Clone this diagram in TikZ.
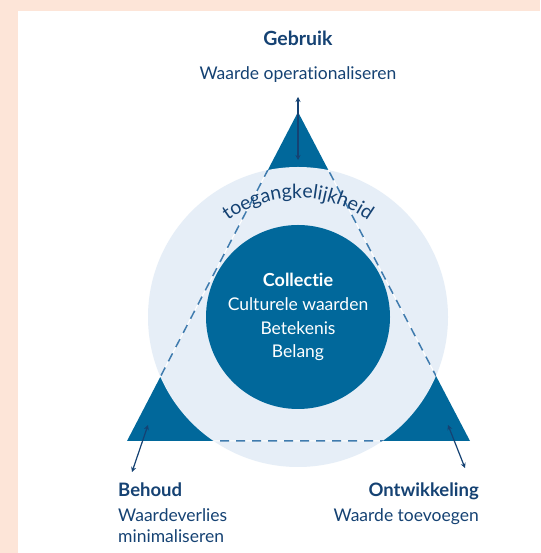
\documentclass[tikz,border=0pt]{standalone}
\usepackage{fontspec}
\setmainfont{Lato}[Ligatures=NoCommon]
\usetikzlibrary{decorations.text,arrows.meta}

\definecolor{peach}{HTML}{FDE5D8}
\definecolor{rijkblue}{HTML}{01689B}
\definecolor{lightcirc}{HTML}{E6EEF7}
\definecolor{navy}{HTML}{154273}
\definecolor{dashblue}{HTML}{3F7BAE}

\tikzset{
  lbl/.style={text=navy, font=\fontsize{17.5}{20}\selectfont, inner sep=0pt},
  ttl/.style={lbl, font=\fontsize{18.5}{21}\selectfont\bfseries},
  wlbl/.style={text=white, font=\fontsize{17.5}{20}\selectfont, inner sep=0pt},
  dblarrow/.style={{Stealth[length=5pt,width=5pt]}-{Stealth[length=5pt,width=5pt]}, navy, line width=1.2pt},
}

\begin{document}
\begin{tikzpicture}[x=1pt,y=1pt]
    \def\cx{298};
    \def\cy{236};
    \def\ro{150};
    \def\ri{92};

    % background and panel
    \fill[peach] (0,0) rectangle (540,553);
    \fill[white] (18,0) rectangle (540,542);
    \useasboundingbox (0,0) rectangle (540,553);

    % triangle
    \coordinate (top) at (\cx, 441);
    \coordinate (bl) at (127, 112);
    \coordinate (br) at (470, 112);
    \fill[rijkblue] (top) -- (bl) -- (br) -- cycle;

    % light circle
    \fill[lightcirc] (\cx, \cy) circle (\ro);

% dashed edges inside the circle
    \begin{scope}
      \clip (\cx, \cy) circle (\ro);
      \draw[white, line width=1pt] (top) -- (bl) -- (br) -- cycle;
      \draw[dashblue, line width=1.5pt, dash pattern=on 9pt off 7pt] (top) -- (bl) -- (br) -- cycle;
    \end{scope}

    % inner circle
    \fill[rijkblue] (\cx, \cy) circle (\ri);

    % text along the ring
    \path[decorate, decoration={text along path, text align=center,
        text={|\fontsize{19.5}{22}\selectfont\color{navy}|toegangkelijkheid}}]
        (\cx, \cy) ++(140:119) arc[start angle=140, end angle=40, radius=119];

    % centre text
    \node[wlbl, anchor=base, font=\fontsize{18}{21}\selectfont\bfseries] (coll) at (\cx, 266) {Collectie};
    \node[wlbl, anchor=base] (cult) at (\cx, 242) {Culturele waarden};
    \node[wlbl, anchor=base] (bet) at (\cx, 218) {Betekenis};
    \node[wlbl, anchor=base] (bel) at (\cx, 195) {Belang};

    % corner labels
    \node[ttl, anchor=base, font=\fontsize{19.5}{22}\selectfont\bfseries] (gebr) at (\cx, 507) {Gebruik};
    \node[lbl, anchor=base] (gebrtxt) at (\cx, 473) {Waarde operationaliseren};

    \node[ttl, anchor=base west] (beh) at (118, 56) {Behoud};
    \node[lbl, anchor=base west] (behtxt1) at (118, 31) {Waardeverlies};
    \node[lbl, anchor=base west] (behtxt2) at (118, 10) {minimaliseren};

    \node[ttl, anchor=base east] (ontw) at (479, 56) {Ontwikkeling};
    \node[lbl, anchor=base east] (ontwtxt) at (479, 31) {Waarde toevoegen};

    % arrows
    \coordinate (a1) at (\cx, 456);
    \coordinate (a2) at (\cx, 393);
    \coordinate (b1) at (148, 128);
    \coordinate (b2) at (132, 81);
    \coordinate (c1) at (448, 128);
    \coordinate (c2) at (465, 85);
    \draw[dblarrow] (a1) -- (a2);
    \draw[dblarrow] (b1) -- (b2);
    \draw[dblarrow] (c1) -- (c2);

\end{tikzpicture}
\end{document}
